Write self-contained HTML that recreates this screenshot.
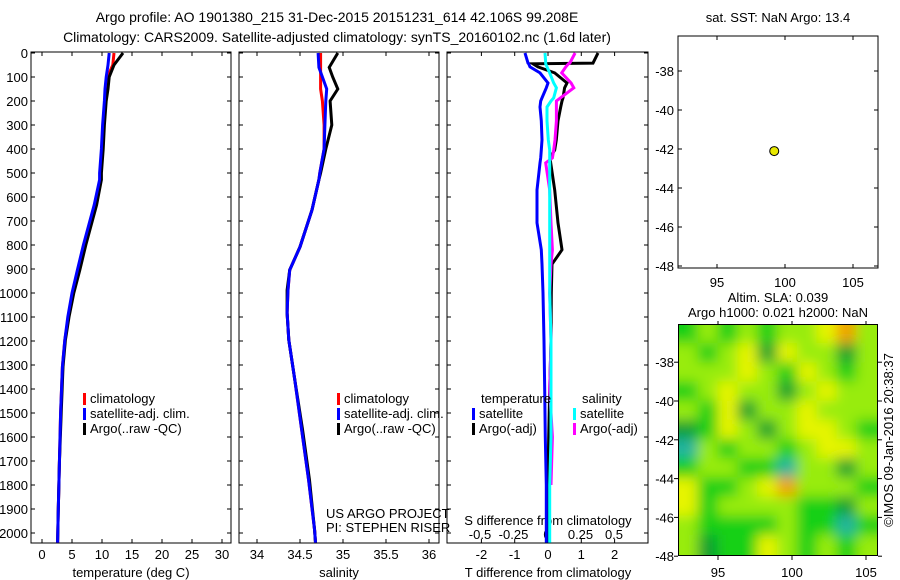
<!DOCTYPE html>
<html><head><meta charset="utf-8"><style>
html,body{margin:0;padding:0;background:#fff;}
svg{display:block;font-family:"Liberation Sans",sans-serif;}
</style></head><body>
<svg id="chart" width="900" height="580" viewBox="0 0 900 580">
<defs>
<clipPath id="hmclip"><rect x="679" y="325" width="198" height="230"/></clipPath>
<filter id="blur" filterUnits="userSpaceOnUse" x="640" y="280" width="280" height="320"><feGaussianBlur stdDeviation="6.5"/></filter>
</defs>
<text x="337" y="22" font-size="14" text-anchor="middle">Argo profile: AO 1901380_215 31-Dec-2015 20151231_614 42.106S 99.208E</text>
<text x="337" y="42" font-size="14" text-anchor="middle">Climatology: CARS2009. Satellite-adjusted climatology: synTS_20160102.nc (1.6d later)</text>
<g id="g"></g>
</svg>
<script>
// ---- data ----
const depthT = [0,50,100,150,200,300,400,500,528,633,800,904,1000,1100,1196,1308,1500,1708,1917,2040];
const tempClim = [12.0,11.8,10.9,10.6,10.5,10.2,10.0,9.7,9.7,8.8,7.0,6.0,5.1,4.4,3.8,3.4,3.1,2.9,2.7,2.6];
const tempSat  = [11.2,11.0,10.7,10.5,10.4,10.1,9.9,9.6,9.6,8.7,6.9,5.9,5.0,4.3,3.8,3.4,3.1,2.9,2.7,2.6];
const tempArgo = [13.5,12.0,11.2,11.0,10.7,10.4,10.2,9.9,9.9,9.1,7.3,6.3,5.3,4.5,3.9,3.5,3.2,2.9,2.7,2.6];
const depthS = [0,60,100,150,200,300,400,500,528,654,808,904,988,1083,1196,1362,1571,1779,1988,2040];
const salClim = [34.74,34.74,34.74,34.74,34.76,34.78,34.78,34.73,34.72,34.64,34.50,34.38,34.36,34.35,34.37,34.44,34.52,34.60,34.67,34.68];
const salSat  = [34.71,34.72,34.76,34.81,34.80,34.79,34.78,34.73,34.72,34.64,34.50,34.38,34.36,34.35,34.37,34.44,34.52,34.60,34.67,34.68];
const salArgo = [34.94,34.84,34.88,34.94,34.85,34.87,34.80,34.74,34.72,34.64,34.50,34.38,34.35,34.35,34.37,34.44,34.53,34.61,34.67,34.68];
const depthD = [0,42,45,58,83,125,145,187,200,225,283,362,404,437,458,571,708,820,880,1000,1200,1404,1600,1800,2040];
const dTsat  = [-0.69,-0.6,-0.58,-0.54,-0.24,0,-0.05,-0.18,-0.22,-0.24,-0.2,-0.18,-0.2,-0.22,-0.24,-0.33,-0.33,-0.2,-0.18,-0.15,-0.12,-0.1,-0.08,-0.05,-0.05];
const dTargo = [1.5,1.35,-0.45,-0.3,0.2,0.57,0.5,0.45,0.42,0.38,0.3,0.25,0.2,0.06,0.08,0.2,0.3,0.42,0.12,0.1,0.09,0.05,0.02,0.0,0.0];
const dSsat  = [-0.015,-0.01,-0.01,0.0,0.02,0.05,0.07,0.05,0.03,0.0,0.0,0.01,0.02,0.02,0.02,0.02,0.02,0.02,0.02,0.02,0.03,0.03,0.03,0.02,0.02];
const dSargo = [0.21,0.17,0.16,0.14,0.11,0.18,0.2,0.1,0.07,0.07,0.07,0.06,0.05,0.04,-0.01,0.02,0.03,0.04,0.03,0.02,0.03,0.02,0.04,0.03,null];
const depthTicks = [0,100,200,300,400,500,600,700,800,900,1000,1100,1200,1300,1400,1500,1600,1700,1800,1900,2000];
const tTicks = [0,5,10,15,20,25,30];
const sTicks = [34,34.5,35,35.5,36];
const sTickLabels = ["34","34.5","35","35.5","36"];
const dTTicks = [-2,-1,0,1,2];
const dSTicks = [-0.5,-0.25,0,0.25,0.5];
const dSTickLabels = ["-0.5","-0.25","0","0.25","0.5"];
const lonTicks = [95,100,105];
const latTicks = [-38,-40,-42,-44,-46,-48];
const argoLon = [99.208];
const argoLat = [-42.106];
const slaGrid = [
 [0,1,0,1,0,1,1,2,3,1],
 [1,0,1,2,-1,2,1,1,-1,1],
 [1,1,1,2,1,0,2,1,0,1],
 [0,1,2,1,1,-1,1,2,1,1],
 [1,0,2,-1,1,1,2,1,1,1],
 [-1,0,2,1,-1,1,2,2,1,0],
 [-2,1,0,1,1,0,1,2,2,1],
 [0,1,1,0,0,-2,1,1,-1,1],
 [2,0,0,1,2,3,1,1,1,0],
 [2,0,1,1,1,1,0,0,-1,1],
 [1,0,0,0,0,1,0,0,-2,0],
 [1,-1,0,0,2,1,0,1,0,1]
];
// ---- helpers ----
const NS="http://www.w3.org/2000/svg";
const G=document.getElementById('g');
function el(tag,attrs,parent){const e=document.createElementNS(NS,tag);for(const k in attrs)e.setAttribute(k,attrs[k]);(parent||G).appendChild(e);return e;}
function txt(x,y,s,size,anchor,parent){const t=el('text',{x:x,y:y,'font-size':size,'text-anchor':anchor||'middle'},parent);t.textContent=s;return t;}
const FS=13;
const yD = d => 53 + d*0.24;
const PT=52, PB=543;
const xT = v => 42 + v*6;
const xS = v => 257 + (v-34)*86;
const xDT = v => 548 + v*33.3;
const xDS = v => 547 + v*134;
function panel(x0,x1,name){
  const r=el('rect',{x:x0,y:PT,width:x1-x0,height:PB-PT,fill:'none',stroke:'#000','stroke-width':1});
  
  
  depthTicks.forEach(d=>{el('line',{x1:x0,x2:x0+4,y1:yD(d),y2:yD(d),stroke:'#000'});el('line',{x1:x1-4,x2:x1,y1:yD(d),y2:yD(d),stroke:'#000'});});
}
function xticks(vals,fx,labels,ly){
  vals.forEach((v,i)=>{const x=fx(v);el('line',{x1:x,x2:x,y1:PB,y2:PB-4,stroke:'#000'});el('line',{x1:x,x2:x,y1:PT,y2:PT+4,stroke:'#000'});
   const t=txt(x,ly,labels[i],FS);
   
   });
}
function line(xs,ds,fx,color,name,w){
  let pts=[];xs.forEach((v,i)=>{if(v!==null)pts.push(fx(v).toFixed(1)+','+yD(ds[i]).toFixed(1));});
  const p=el('polyline',{points:pts.join(' '),fill:'none',stroke:color,'stroke-width':w||3,'stroke-linejoin':'miter'});
  
  
}
function legend(x,y,items){
  items.forEach((it,i)=>{el('rect',{x:x,y:y+i*15-10,width:3,height:12,fill:it[1]});
   const t=txt(x+7,y+i*15,it[0],FS,'start');
   
   });
}
// ---- panel 1 temperature ----
panel(31,231,'temperature-panel');
depthTicks.forEach(d=>{const t=txt(28,yD(d)+5,String(d),FS,'end');
 
 });
xticks(tTicks,xT,tTicks.map(String),559);
let t1=txt(131,577,'temperature (deg C)',FS);


line(tempClim,depthT,xT,'#f00','temp-clim-line');
line(tempArgo,depthT,xT,'#000','temp-argo-line');
line(tempSat,depthT,xT,'#00f','temp-sat-line');
legend(83,403,[['climatology','#f00'],['satellite-adj. clim.','#00f'],['Argo(..raw -QC)','#000']]);
// ---- panel 2 salinity ----
panel(239,439,'salinity-panel');
xticks(sTicks,xS,sTickLabels,559);
let t2=txt(339,577,'salinity',FS);


line(salClim,depthS,xS,'#f00','sal-clim-line');
line(salArgo,depthS,xS,'#000','sal-argo-line');
line(salSat,depthS,xS,'#00f','sal-sat-line');
legend(337,403,[['climatology','#f00'],['satellite-adj. clim.','#00f'],['Argo(..raw -QC)','#000']]);
txt(326,518,'US ARGO PROJECT',FS,'start');
txt(326,532,'PI: STEPHEN RISER',FS,'start');
// ---- panel 3 differences ----
panel(447,648,'difference-panel');
xticks(dTTicks,xDT,dTTicks.map(String),559);
dSTicks.forEach((v,i)=>{const t=txt(xDS(v),539,dSTickLabels[i],FS);
 
 });
txt(548,525,'S difference from climatology',FS);
let t3=txt(548,577,'T difference from climatology',FS);


line(dTargo,depthD,xDT,'#000','tdiff-argo-line');
line(dSargo,depthD,xDS,'#f0f','sdiff-argo-line');
line(dSsat,depthD,xDS,'#0ff','sdiff-sat-line');
line(dTsat,depthD,xDT,'#00f','tdiff-sat-line');
txt(481,403,'temperature',FS,'start');
txt(582,403,'salinity',FS,'start');
legend(472,418,[['satellite','#00f'],['Argo(-adj)','#000']]);
legend(573,418,[['satellite','#0ff'],['Argo(-adj)','#f0f']]);
// ---- location map ----
const mx=lon=>717+(lon-95)*13.6, my=lat=>71+(-38-lat)*19.5;
let mr=el('rect',{x:678,y:36,width:200,height:232,fill:'none',stroke:'#000'});


txt(778,22,'sat. SST: NaN Argo: 13.4',FS);
lonTicks.forEach(v=>{el('line',{x1:mx(v),x2:mx(v),y1:36,y2:40,stroke:'#000'});el('line',{x1:mx(v),x2:mx(v),y1:268,y2:264,stroke:'#000'});txt(mx(v),287,String(v),FS);});
latTicks.forEach(v=>{el('line',{x1:678,x2:682,y1:my(v),y2:my(v),stroke:'#000'});el('line',{x1:874,x2:878,y1:my(v),y2:my(v),stroke:'#000'});txt(674,my(v)+5,String(v),FS,'end');});
argoLon.forEach((lo,i)=>{const c=el('circle',{cx:mx(lo),cy:my(argoLat[i]),r:4.5,fill:'#e8e800',stroke:'#000','stroke-width':1});
 
 });
// ---- SLA heatmap ----
txt(778,302,'Altim. SLA: 0.039',FS);
txt(778,317,'Argo h1000: 0.021 h2000: NaN',FS);
const hx=lon=>718+(lon-95)*14.8, hy=lat=>401+(-40-lat)*19.4;
const colors={'-2':'#22b4a0','-1':'#0ea032','0':'#18d018','1':'#98ec10','2':'#e6f400','3':'#f0a000'};
const hg=el('g',{'clip-path':'url(#hmclip)'});
const bg=el('g',{filter:'url(#blur)'},hg);
const rows=slaGrid.length, cols=slaGrid[0].length, cw=198/cols, ch=230/rows;
const PAD=25;
slaGrid.forEach((row,r)=>row.forEach((v,c)=>{
  let x=679+c*cw-1, y=325+r*ch-1, w=cw+2, h=ch+2;
  if(c===0){x-=PAD;w+=PAD;}
  if(c===cols-1){w+=PAD;}
  if(r===0){y-=PAD;h+=PAD;}
  if(r===rows-1){h+=PAD;}
  const cell=el('rect',{x:x,y:y,width:w,height:h,fill:colors[String(v)]},bg);
  
  
}));
let hr=el('rect',{x:678.5,y:324.5,width:199,height:231,fill:'none',stroke:'#000'});


lonTicks.forEach(v=>{el('line',{x1:hx(v),x2:hx(v),y1:321,y2:325,stroke:'#000'});el('line',{x1:hx(v),x2:hx(v),y1:556,y2:560,stroke:'#000'});txt(hx(v),577,String(v),FS);});
latTicks.forEach(v=>{el('line',{x1:674,x2:678,y1:hy(v),y2:hy(v),stroke:'#000'});el('line',{x1:878,x2:882,y1:hy(v),y2:hy(v),stroke:'#000'});txt(674,hy(v)+5,String(v),FS,'end');});
const rt=txt(0,0,'©IMOS 09-Jan-2016 20:38:37',FS);
rt.setAttribute('transform','translate(893,440) rotate(-90)');


</script>
</body></html>
